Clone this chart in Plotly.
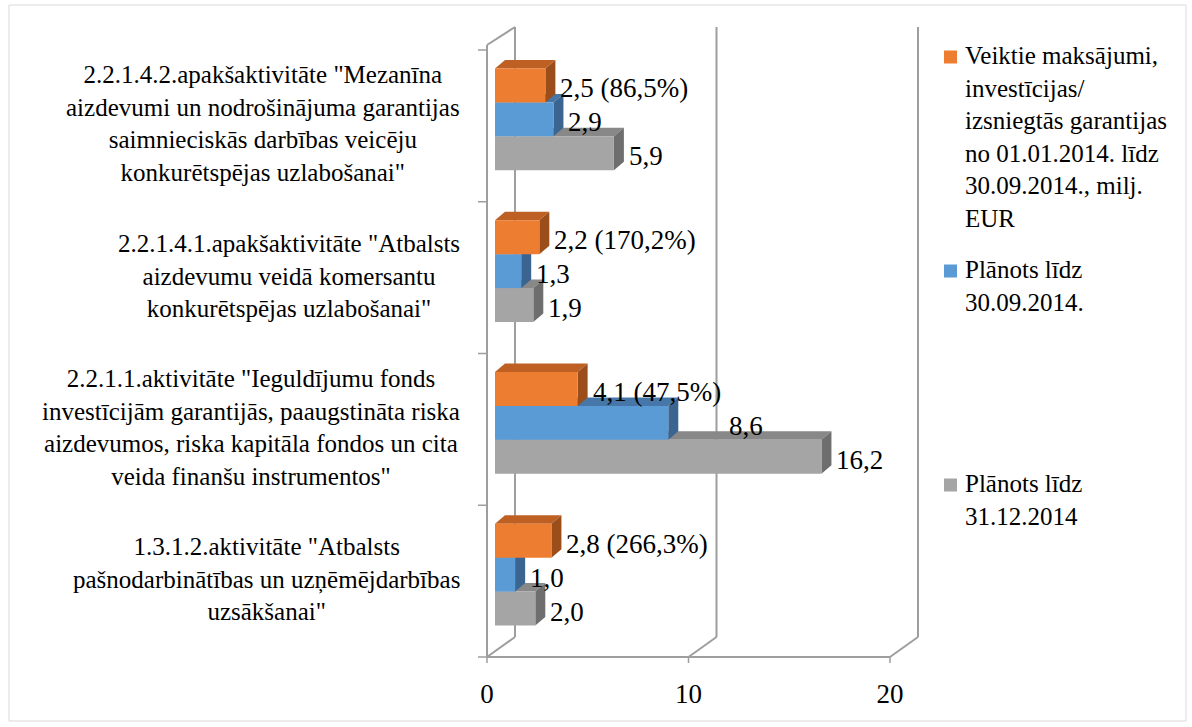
import plotly.graph_objects as go

# ---------------- data ----------------
categories = [
    '1.3.1.2.aktivitāte "Atbalsts<br>pašnodarbinātības un uzņēmējdarbības<br>uzsākšanai"',
    '2.2.1.1.aktivitāte "Ieguldījumu fonds<br>investīcijām garantijās, paaugstināta riska<br>aizdevumos, riska kapitāla fondos un cita<br>veida finanšu instrumentos"',
    '2.2.1.4.1.apakšaktivitāte "Atbalsts<br>aizdevumu veidā komersantu<br>konkurētspējas uzlabošanai"',
    '2.2.1.4.2.apakšaktivitāte "Mezanīna<br>aizdevumi un nodrošinājuma garantijas<br>saimnieciskās darbības veicēju<br>konkurētspējas uzlabošanai"',
]
actual_payments = [2.8, 4.1, 2.2, 2.5]
actual_percent = [266.3, 47.5, 170.2, 86.5]
planned_to_sep = [1.0, 8.6, 1.3, 2.9]
planned_to_dec = [2.0, 16.2, 1.9, 5.9]

series_names = [
    "Plānots līdz<br>31.12.2014",
    "Plānots līdz<br>30.09.2014.",
    "Veiktie maksājumi,<br>investīcijas/<br>izsniegtās garantijas<br>no 01.01.2014. līdz<br>30.09.2014., milj.<br>EUR",
]
x_ticks = [0, 10, 20]

# ---------------- styling / geometry ----------------
W, H = 1192, 727
ML, MR, MT, MB = 470, 262, 20, 59
PW, PH = W - ML - MR, H - MT - MB
PX_PER_X = 20.15          # pixels per x unit
X0_PX = 495               # pixel of x=0 in the bar plane
PX_PER_Y = 151.75         # pixels per category
Y_BASE_PX = 650.5         # pixel of y=-0.5 in the bar plane
DEPTH_X, DEPTH_Y = 10, 8.5  # 3-D depth of bars in pixels
BARGAP = 0.33
FONT = "'Liberation Serif', 'Times New Roman', Times, 'DejaVu Serif', serif"

front_colors = ["#A5A5A5", "#5B9BD5", "#ED7D31"]
top_colors = ["#888888", "#4677A8", "#BE6023"]
side_colors = ["#6E6E6E", "#3A6590", "#9C4E1A"]
wall_color = "#9E9E9E"


def xd(px):
    return (px - X0_PX) / PX_PER_X


def yd(py):
    return -0.5 + (Y_BASE_PX - py) / PX_PER_Y


def ppx(px):
    return (px - ML) / PW


def ppy(py):
    return 1 - (py - MT) / PH


def fmt(v):
    return f"{v:.1f}".replace(".", ",")


series_values = [planned_to_dec, planned_to_sep, actual_payments]
idx = list(range(len(categories)))

fig = go.Figure()
for k, vals in enumerate(series_values):
    fig.add_trace(go.Bar(
        y=idx, x=vals, orientation="h", name=series_names[k],
        marker=dict(color=front_colors[k], line=dict(width=0)),
        showlegend=False, hoverinfo="x",
    ))

shapes = []
# ---- walls / axes (drawn behind bars) ----
front_left = 487
back_left = 515
px_unit_back = 20.15


def line(x0, y0, x1, y1, width=2):
    return dict(type="line", xref="x", yref="y", layer="below",
                x0=xd(x0), y0=yd(y0), x1=xd(x1), y1=yd(y1),
                line=dict(color=wall_color, width=width))


front_bottom = 657
back_bottom = 637
top_back = 27
shapes.append(line(front_left, 45, front_left, front_bottom))
shapes.append(line(front_left, 45, back_left, top_back))
for t in x_ticks:
    fx = front_left + t * PX_PER_X
    bx = back_left + t * px_unit_back
    shapes.append(line(bx, top_back, bx, back_bottom))
    shapes.append(line(fx, front_bottom, bx, back_bottom))
    shapes.append(line(fx, front_bottom, fx, front_bottom + 6, 1.5))
shapes.append(line(front_left, front_bottom, front_left + 20 * PX_PER_X, front_bottom))
for j in range(len(categories) + 1):
    ty = front_bottom - j * PX_PER_Y
    shapes.append(line(front_left - 9, ty, front_left, ty, 1.5))

# ---- 3-D faces of bars ----
nser = len(series_values)
w = (1 - BARGAP) / nser
dxd = DEPTH_X / PX_PER_X
dyd = DEPTH_Y / PX_PER_Y


def path(pts):
    return "M " + " L ".join(f"{a},{b}" for a, b in pts) + " Z"


for k, vals in enumerate(series_values):
    off = -(1 - BARGAP) / 2 + w * (k + 0.5)
    for i, v in enumerate(vals):
        yb = i + off - w / 2
        yt = i + off + w / 2
        shapes.append(dict(type="path", xref="x", yref="y", layer="below",
                           path=path([(0, yt), (v, yt), (v + dxd, yt + dyd), (dxd, yt + dyd)]),
                           fillcolor=top_colors[k], line=dict(width=0)))
        shapes.append(dict(type="path", xref="x", yref="y", layer="below",
                           path=path([(v, yb), (v, yt), (v + dxd, yt + dyd), (v + dxd, yb + dyd)]),
                           fillcolor=side_colors[k], line=dict(width=0)))

# ---- outer chart border ----
shapes.append(dict(type="rect", xref="paper", yref="paper",
                   x0=ppx(9), x1=ppx(1186), y0=ppy(721), y1=ppy(5),
                   line=dict(color="#D9D9D9", width=1), fillcolor="rgba(0,0,0,0)"))

annotations = []
# ---- category labels ----
for i, c in enumerate(categories):
    annotations.append(dict(xref="paper", yref="y", x=ppx(462), y=i - 0.03,
                            xanchor="right", yanchor="middle", align="center",
                            text=c, showarrow=False,
                            font=dict(family=FONT, size=25, color="black")))

# ---- data labels ----
extra_shift = {(1, 1): 46}
for k, vals in enumerate(series_values):
    off = -(1 - BARGAP) / 2 + w * (k + 0.5)
    for i, v in enumerate(vals):
        txt = fmt(v)
        if k == 2:
            txt = f"{fmt(v)} ({fmt(actual_percent[i])}%)"
        annotations.append(dict(xref="x", yref="y", x=v, y=i + off,
                                xanchor="left", yanchor="middle",
                                xshift=DEPTH_X + 3 + extra_shift.get((k, i), 0),
                                yshift=-3, text=txt, showarrow=False,
                                font=dict(family=FONT, size=27, color="black")))

# ---- legend (custom, spaced like the original) ----
legend_order = [2, 1, 0]
legend_tops = [40, 254, 468]
for n, k in enumerate(legend_order):
    top = legend_tops[n]
    cy = top + 17
    shapes.append(dict(type="rect", xref="paper", yref="paper",
                       x0=ppx(944), x1=ppx(957), y0=ppy(cy + 6.5), y1=ppy(cy - 6.5),
                       fillcolor=front_colors[k], line=dict(width=0)))
    annotations.append(dict(xref="paper", yref="paper", x=ppx(963), y=ppy(top),
                            xanchor="left", yanchor="top", align="left",
                            text=series_names[k], showarrow=False,
                            font=dict(family=FONT, size=25, color="black")))

fig.update_layout(
    width=W, height=H, template="none",
    margin=dict(l=ML, r=MR, t=MT, b=MB, pad=0),
    paper_bgcolor="white", plot_bgcolor="rgba(0,0,0,0)",
    barmode="group", bargap=BARGAP, bargroupgap=0,
    showlegend=False,
    font=dict(family=FONT, color="black"),
    xaxis=dict(range=[xd(ML), xd(ML + PW)], showgrid=False, zeroline=False,
               showline=False, automargin=False, fixedrange=True,
               tickvals=[t + (front_left - X0_PX) / PX_PER_X for t in x_ticks],
               ticktext=[str(t) for t in x_ticks],
               ticks="outside", ticklen=2, tickcolor="rgba(0,0,0,0)",
               tickfont=dict(family=FONT, size=27, color="black")),
    yaxis=dict(range=[yd(MT + PH), yd(MT)], showgrid=False, zeroline=False,
               showline=False, showticklabels=False, ticks="", automargin=False,
               fixedrange=True),
    shapes=shapes, annotations=annotations,
)

fig.write_html("out.html", config={"displayModeBar": False},
               post_script="document.body.style.margin='0';")
